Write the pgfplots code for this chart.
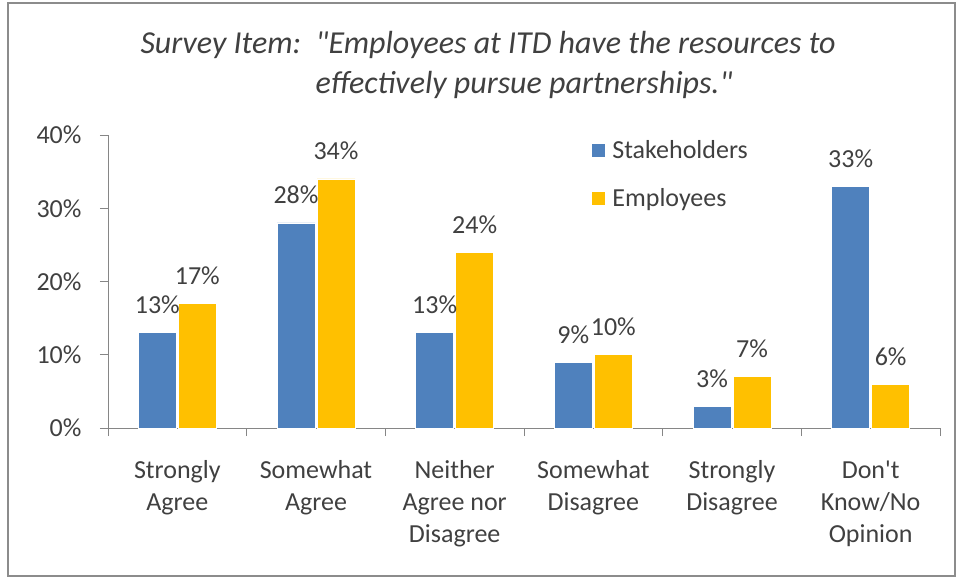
\documentclass[border=0pt]{standalone}
\usepackage{pgfplots}
\pgfplotsset{compat=1.18}
\usepackage{fontspec}
\setmainfont{Carlito}
\newfontfamily\pf{Carlito}
\definecolor{sbblue}{HTML}{4F81BD}
\definecolor{empgold}{HTML}{FFC000}
\definecolor{axgray}{HTML}{868686}
\definecolor{txt}{HTML}{404040}
\definecolor{frame}{HTML}{8C8C8C}
\begin{document}
\begin{tikzpicture}[x=1pt,y=1pt]
\useasboundingbox (0,0) rectangle (961,579);
\draw[frame, line width=2.5pt] (8,3) rectangle (955,576);
\node[txt, font=\pf\fontsize{32}{38}\selectfont\itshape] at (488,534) {Survey Item:\ \ "Employees at ITD have the resources to};
\node[txt, font=\pf\fontsize{32}{38}\selectfont\itshape] at (524,494) {effectively pursue partnerships."};
\begin{axis}[
  at={(108pt,151pt)}, anchor=south west,
  scale only axis, width=832pt, height=293pt,
  xmin=-0.5, xmax=5.5, ymin=0, ymax=40,
  axis x line*=bottom, axis y line*=left,
  axis line style={axgray, line width=0.9pt},
  every tick/.style={axgray, line width=0.9pt},
  tick align=outside,
  ybar=2pt, bar width=38pt,
  xtick={0,...,5},
  major x tick style={draw=none},
  minor xtick={-0.5,0.5,...,5.5},
  minor tick length=8pt,
  ytick={0,10,20,30,40},
  major tick length=8pt,
  yticklabel={\pgfmathprintnumber{\tick}\%},
  /pgf/number format/assume math mode=true,
  xticklabels={{Strongly\\Agree},{Somewhat\\Agree},{Neither\\Agree nor\\Disagree},{Somewhat\\Disagree},{Strongly\\Disagree},{Don't\\Know/No\\Opinion}},
  xticklabel style={align=center, anchor=north, yshift=-21pt, font=\pf\fontsize{26}{32}\selectfont, text=txt},
  yticklabel style={font=\pf\fontsize{26}{32}\selectfont, text=txt, xshift=-15pt},
  nodes near coords={\pgfmathprintnumber{\pgfplotspointmeta}\%},
  nodes near coords style={font=\pf\fontsize{26}{32}\selectfont, text=txt, anchor=base, yshift=19pt, inner sep=0pt},
  legend style={at={(0.581,0.99)}, anchor=north west, draw=none, fill=none, row sep=25pt, font=\pf\fontsize{26}{32}\selectfont, text=txt, inner sep=0pt, /tikz/every odd column/.append style={column sep=6pt}},
  legend cell align=left,
  clip=false,
]
\addplot[fill=sbblue, draw=white, line width=0.8pt,
  legend image code/.code={\fill[sbblue] (0pt,-6pt) rectangle (12pt,6pt);}]
  coordinates {(0,13) (1,28) (2,13) (3,9) (4,3) (5,33)};
\addlegendentry{Stakeholders}
\addplot[fill=empgold, draw=white, line width=0.8pt,
  legend image code/.code={\fill[empgold] (0pt,-6pt) rectangle (12pt,6pt);}]
  coordinates {(0,17) (1,34) (2,24) (3,10) (4,7) (5,6)};
\addlegendentry{Employees}
\end{axis}
\end{tikzpicture}
\end{document}
